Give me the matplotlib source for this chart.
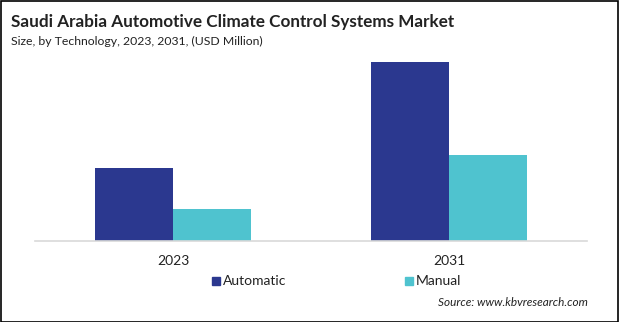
import matplotlib
matplotlib.use("Agg")
import matplotlib.pyplot as plt
import numpy as np
from matplotlib.patches import Rectangle

years = ["2023", "2031"]
series = ["Automatic", "Manual"]
automatic = [73, 179]
manual = [32, 86]
colors = ["#2b388f", "#4fc3cf"]

W, H = 619, 322
plt.rcParams["font.family"] = ["Lato", "DejaVu Sans"]

fig = plt.figure(figsize=(W / 100, H / 100), dpi=100)
# axes in pixel coords: x 35..587, baseline y 241, top y 51
ax = fig.add_axes([35 / W, 1 - 241 / H, (587 - 35) / W, (241 - 51) / H])

x = np.arange(len(years))
bw = 0.282
ax.bar(x - bw / 2, automatic, bw, color=colors[0], label=series[0])
ax.bar(x + bw / 2, manual, bw, color=colors[1], label=series[1])
ax.set_xlim(-0.5, 1.5)
ax.set_ylim(0, 190)
ax.set_yticks([])
ax.set_xticks(x)
ax.set_xticklabels(years, fontsize=10, color="#222222")
ax.tick_params(axis="x", length=0, pad=10)
for s in ["top", "right", "left"]:
    ax.spines[s].set_visible(False)
ax.spines["bottom"].set_color("#d9d9d9")
ax.spines["bottom"].set_linewidth(1.2)

fig.text(11 / W, 1 - 22 / H, "Saudi Arabia Automotive Climate Control Systems Market",
         fontsize=12.3, fontweight="bold", color="#222222", va="center")
fig.text(11 / W, 1 - 41 / H, "Size, by Technology, 2023, 2031, (USD Million)",
         fontsize=8.8, color="#222222", va="center")

# legend
for i, (name, lx) in enumerate(zip(series, [212, 405])):
    fig.patches.append(Rectangle((lx / W, 1 - 285 / H), 8 / W, 8 / H,
                                 transform=fig.transFigure, color=colors[i]))
    fig.text((lx + 11) / W, 1 - 281 / H, name, fontsize=10, color="#222222", va="center")

fig.text(588 / W, 1 - 303 / H, "Source: www.kbvresearch.com", fontsize=8.5,
         style="italic", color="#222222", ha="right", va="center")

fig.patches.append(Rectangle((0.5 / W, 0.5 / H), 1 - 1.5 / W, 1 - 1.5 / H,
                             transform=fig.transFigure, fill=False,
                             edgecolor="black", linewidth=1.2))

fig.savefig("out.png", dpi=100, facecolor="white")
